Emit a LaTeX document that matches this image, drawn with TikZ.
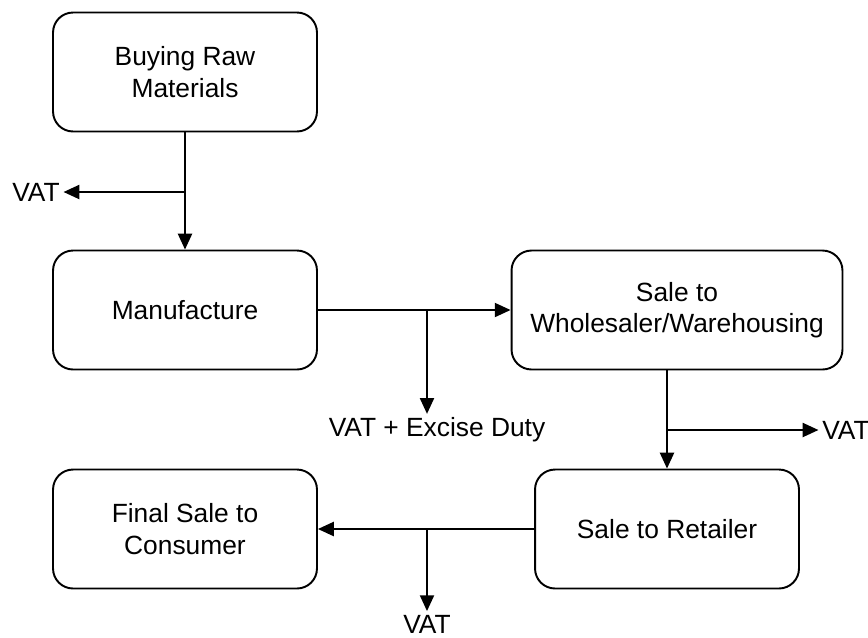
\documentclass[tikz,border=0pt]{standalone}
\usepackage{fontspec}
\setmainfont{Liberation Sans}
\usetikzlibrary{arrows.meta}
\begin{document}
\begin{tikzpicture}[x=0.02cm, y=-0.02cm, line cap=round, line join=round,
    stage/.style={rectangle, rounded corners=0.4cm, draw=black, line width=1.1pt, fill=white, minimum width=5.28cm, minimum height=2.38cm, align=center, font=\fontsize{15}{18}\selectfont},
    tax/.style={inner sep=2pt, font=\fontsize{15}{18}\selectfont},
    flow/.style={line width=1.1pt, -{Triangle[length=9pt, width=8pt]}}]
  \useasboundingbox (0, 0) rectangle (868, 637);
  % Stages
  \node [stage] (buy) at (185, 72) {Buying Raw\\Materials};
  \node [stage] (make) at (185, 310) {Manufacture};
  \node [stage, minimum width=6.62cm] (whole) at (677, 310) {Sale to\\Wholesaler/Warehousing};
  \node [stage] (retail) at (667, 529) {Sale to Retailer};
  \node [stage] (final) at (185, 529) {Final Sale to\\Consumer};
  % Taxes
  \node [tax] (vat-1) at (36, 192) {VAT};
  \node [tax] (vat-2) at (437, 430) {VAT + Excise Duty};
  \node [tax] (vat-3) at (846, 430) {VAT};
  \node [tax] (vat-4) at (427, 624) {VAT};
  % Branch points
  \coordinate (split-1) at (185, 192);
  \coordinate (split-2) at (427, 310);
  \coordinate (split-3) at (667, 430);
  \coordinate (split-4) at (427, 529);
  % Main flow
  \draw [flow] (buy) -- (make);
  \draw [flow] (make) -- (whole);
  \draw [flow] (whole.south -| retail.north) -- (retail.north);
  \draw [flow] (retail) -- (final);
  % Tax arrows
  \draw [flow] (split-1) -- (vat-1);
  \draw [flow] (split-2) -- (split-2 |- vat-2.north);
  \draw [flow] (split-3) -- (vat-3);
  \draw [flow] (split-4) -- (vat-4);
\end{tikzpicture}
\end{document}
